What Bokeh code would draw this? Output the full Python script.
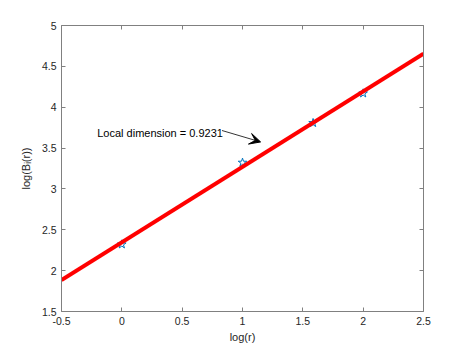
from bokeh.plotting import figure
from bokeh.models import Range1d, LinearAxis, FixedTicker, Label, Arrow, VeeHead, CustomJSTickFormatter
from bokeh.embed import file_html
from bokeh.resources import INLINE

# data
log_r = [0.0, 1.0, 1.585, 2.0]
log_B = [2.3219, 3.3219, 3.8074, 4.1699]
fit_x = [-0.5, 2.5]
fit_y = [1.8857, 4.655]
x_ticks = [-0.5, 0.0, 0.5, 1.0, 1.5, 2.0, 2.5]
x_tick_labels = ["-0.5", "0", "0.5", "1", "1.5", "2", "2.5"]
y_ticks = [1.5, 2.0, 2.5, 3.0, 3.5, 4.0, 4.5, 5.0]
y_tick_labels = ["1.5", "2", "2.5", "3", "3.5", "4", "4.5", "5"]
annot_text = "Local dimension = 0.9231"
annot_pos = (-0.204, 3.685)
arrow_start = (0.83, 3.715)
arrow_end = (1.15, 3.575)

FONT = "Liberation Sans"
AXIS_COLOR = "#808080"
TEXT_COLOR = "#262626"

p = figure(width=463, height=348, output_backend="svg", toolbar_location=None,
           x_range=Range1d(-0.5, 2.5), y_range=Range1d(1.5, 5),
           min_border_left=61, min_border_right=40, min_border_top=25, min_border_bottom=37,
           x_axis_label="log(r)", y_axis_label="log(B\u1d62(r))")
p.frame_width = 362
p.frame_height = 286
p.grid.visible = False
p.outline_line_color = None
p.background_fill_color = "white"
p.border_fill_color = "white"

def style_axis(ax, ticks, labels=None):
    ax.ticker = FixedTicker(ticks=ticks)
    ax.axis_line_color = AXIS_COLOR
    ax.axis_line_width = 1
    ax.major_tick_line_color = AXIS_COLOR
    ax.major_tick_in = 4
    ax.major_tick_out = 0
    ax.minor_tick_line_color = None
    ax.major_label_text_font = FONT
    ax.major_label_text_font_size = "10.5px"
    ax.major_label_text_color = TEXT_COLOR
    ax.major_label_standoff = 5
    ax.axis_label_text_font = FONT
    ax.axis_label_text_font_size = "11px"
    ax.axis_label_text_font_style = "normal"
    ax.axis_label_text_color = TEXT_COLOR
    if labels is not None:
        ax.major_label_overrides = {t: l for t, l in zip(ticks, labels)}
    else:
        ax.formatter = CustomJSTickFormatter(code="return ''")
        ax.major_label_standoff = 0

style_axis(p.xaxis[0], x_ticks, x_tick_labels)
style_axis(p.yaxis[0], y_ticks, y_tick_labels)
p.xaxis[0].axis_label_standoff = 3
p.yaxis[0].axis_label_standoff = 7

top = LinearAxis()
right = LinearAxis()
style_axis(top, x_ticks)
style_axis(right, y_ticks)
p.add_layout(top, "above")
p.add_layout(right, "right")

p.scatter(log_r, log_B, marker="star", size=9, fill_color=None,
          line_color="#0072BD", line_width=1)
p.line(fit_x, fit_y, line_color="#FF0000", line_width=4)

p.add_layout(Label(x=annot_pos[0], y=annot_pos[1], text=annot_text,
                   text_font=FONT, text_font_size="11px", text_color="black",
                   text_baseline="middle", text_align="left"))
p.add_layout(Arrow(x_start=arrow_start[0], y_start=arrow_start[1],
                   x_end=arrow_end[0], y_end=arrow_end[1],
                   line_color="black", line_width=0.8,
                   end=VeeHead(size=11, fill_color="black", line_color="black")))

open("out.html", "w").write(file_html(p, INLINE))
